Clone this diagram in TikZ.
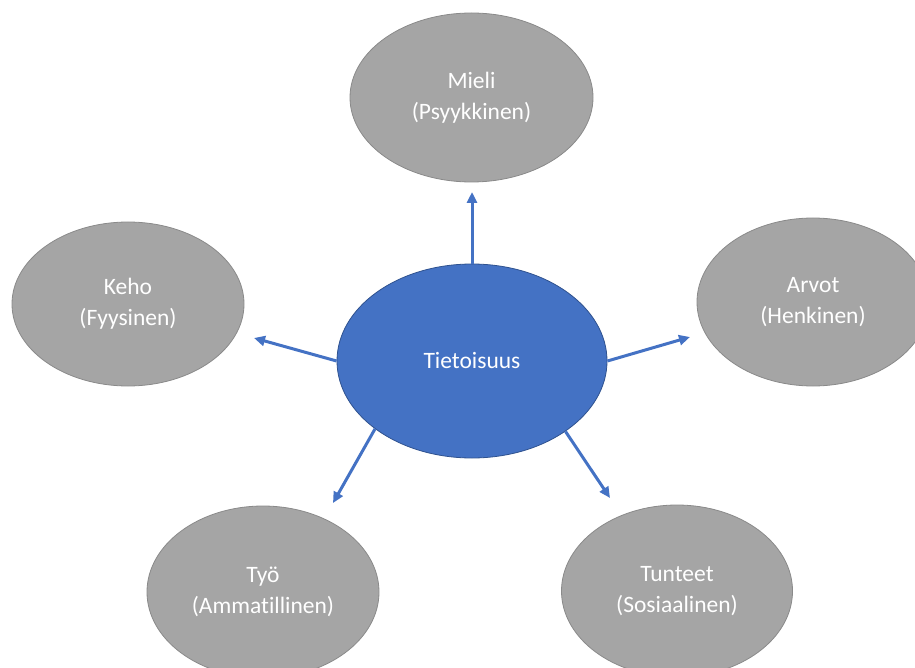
\documentclass[tikz,border=0pt]{standalone}
\usepackage{fontspec}
\setmainfont[Ligatures=NoCommon]{Carlito}
\usetikzlibrary{shapes.geometric,arrows.meta}
\definecolor{bluefill}{HTML}{4472C4}
\definecolor{blueline}{HTML}{2F528F}
\definecolor{grayfill}{HTML}{A5A5A5}
\definecolor{grayline}{HTML}{8A8A8A}
\begin{document}
\begin{tikzpicture}[x=1pt,y=-1pt,
  outer/.style={ellipse,draw=grayline,line width=0.8pt,fill=grayfill,text=white,inner sep=0pt,align=center,
    font=\fontsize{23.5}{31}\selectfont},
  hub/.style={ellipse,draw=blueline,line width=0.8pt,fill=bluefill,text=white,inner sep=0pt,align=center,
    font=\fontsize{23.5}{31}\selectfont},
  arr/.style={draw=bluefill,line width=3pt,-{Triangle[length=11pt,width=10pt]}}]
\useasboundingbox (0,0) rectangle (915,668);
\clip (0,0) rectangle (915,668);
\node[hub,minimum width=270pt,minimum height=194pt] (c) at (472,361) {Tietoisuus};
\node[outer,minimum width=243pt,minimum height=169pt] (mieli) at (471.5,97.5) {Mieli\\(Psyykkinen)};
\node[outer,minimum width=232pt,minimum height=164pt] (keho) at (128,304) {Keho\\(Fyysinen)};
\node[outer,minimum width=232pt,minimum height=168pt] (arvot) at (813,302) {Arvot\\(Henkinen)};
\node[outer,minimum width=232pt,minimum height=172pt] (tyo) at (263,592) {Työ\\(Ammatillinen)};
\node[outer,minimum width=231pt,minimum height=172pt] (tunteet) at (677,591) {Tunteet\\(Sosiaalinen)};
\coordinate (t1) at (472,192);
\coordinate (t2) at (254,338);
\coordinate (t3) at (690,337);
\coordinate (t4) at (333,503);
\coordinate (t5) at (610,498);
\draw[arr] (c.north) -- (t1);
\draw[arr] (c.west) -- (t2);
\draw[arr] (c.east) -- (t3);
\draw[arr] (c.215) -- (t4);
\draw[arr] (c.323) -- (t5);
\end{tikzpicture}
\end{document}
